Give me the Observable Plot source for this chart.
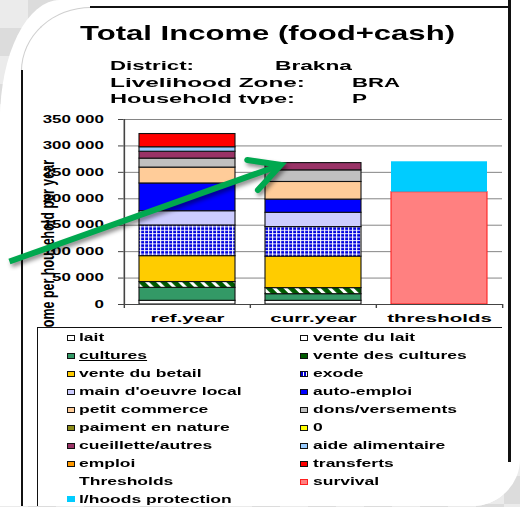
<!DOCTYPE html>
<html><head><meta charset="utf-8">
<script src="https://cdn.jsdelivr.net/npm/d3@7"></script>
<script src="https://cdn.jsdelivr.net/npm/@observablehq/plot@0.6"></script>
<style>
html,body{margin:0;padding:0;}
body{width:520px;height:507px;overflow:hidden;position:relative;font-family:"Liberation Sans",Arial,sans-serif;
 background-color:#e6e6e6;
 background-image:conic-gradient(#dcdcdc 25%, #ebebeb 0 50%, #dcdcdc 0 75%, #ebebeb 0);
 background-size:56px 56px;}
#page{position:absolute;left:0;top:0;width:520px;height:506px;background:#fff;
 border-top-left-radius:60px 120px;border-bottom-right-radius:48px 47px;overflow:hidden;}
.t{position:absolute;white-space:nowrap;font-weight:bold;line-height:1;color:#000;transform-origin:0 0;display:inline-block;}
#chart{position:absolute;left:0;top:104px;}
#legend{position:absolute;left:37px;top:327px;width:465px;height:180px;background:#fff;border-top:1px solid #111;border-left:1px solid #111;box-sizing:border-box;}
.sw{position:absolute;width:8px;height:6px;box-sizing:border-box;border:1px solid #111;}
.line{position:absolute;background:#111;}
#arc{position:absolute;left:21px;top:7px;width:140px;height:140px;border-top:1px solid #cfcfcf;border-left:1px solid #cfcfcf;border-top-left-radius:70px 64px;box-sizing:border-box;}
#arrow{position:absolute;left:0;top:0;filter:drop-shadow(2px 3px 2px rgba(0,0,0,0.45));pointer-events:none;}
</style>
</head><body>
<div id="page">
 <div id="arc"></div>
</div>
<script>
// ---------- data ----------
const categories = ["ref.year", "curr.year", "thresholds"];
const incomeSeries = ["lait","vente du lait","cultures","vente des cultures","vente du betail","exode",
  "main d'oeuvre local","auto-emploi","petit commerce","dons/versements","paiment en nature","0",
  "cueillette/autres","aide alimentaire","emploi","transferts"];
const refYear  = [7000,0,24500,11000,49000,58000,27000,52500,30000,17000,0,0,13000,8500,0,25000];
const currYear = [7000,0,12500,11500,59500,56000,27000,25000,33300,22000,0,0,13700,0,0,0];
const thresholdSeries = ["survival","l/hoods protection"];
const thresholdValues = [212500, 57500];
const yTicks = [0,50000,100000,150000,200000,250000,300000,350000];
const legendLabels = [...incomeSeries, "Thresholds", ...thresholdSeries];
const arrowFrom = {value: 74000};
const arrowTo = {category: "curr.year", value: 263000};

// ---------- styles ----------
const fills = {"lait":"#FFFFFF","vente du lait":"#FFFFFF","cultures":"#339966","vente des cultures":"url(#hatchGreen)",
 "vente du betail":"#FFCC00","exode":"url(#gridBlue)","main d'oeuvre local":"#CCCCFF","auto-emploi":"#0000FF",
 "petit commerce":"#FFCC99","dons/versements":"#C0C0C0","paiment en nature":"#999900","0":"#FFFF00",
 "cueillette/autres":"#993366","aide alimentaire":"#99CCFF","emploi":"#FF9900","transferts":"#FF0000",
 "survival":"#FF8080","l/hoods protection":"#00CCFF"};
const swatchCss = {"lait":"#fff","vente du lait":"#fff","cultures":"#339966","vente des cultures":"#005a00",
 "vente du betail":"#FFCC00","exode":"repeating-linear-gradient(90deg,#0000cc 0 2px,#fff 2px 3px)","main d'oeuvre local":"#CCCCFF",
 "auto-emploi":"#0000FF","petit commerce":"#FFCC99","dons/versements":"#C0C0C0","paiment en nature":"#8c8c1a",
 "0":"#FFFF00","cueillette/autres":"#993366","aide alimentaire":"#99CCFF","emploi":"#FF9900","transferts":"#FF0000",
 "survival":"#FF8080","l/hoods protection":"#00CCFF"};
const strokes = s => s === "survival" ? "#FF2020" : s === "l/hoods protection" ? "none" : "#111";

const rows = [];
incomeSeries.forEach((s,i) => rows.push({cat: categories[0], series: s, value: refYear[i]}));
incomeSeries.forEach((s,i) => rows.push({cat: categories[1], series: s, value: currYear[i]}));
thresholdSeries.forEach((s,i) => rows.push({cat: categories[2], series: s, value: thresholdValues[i]}));

const page = document.getElementById("page");

function addText(txt, left, top, size, opts = {}) {
  const el = document.createElement("span");
  el.className = "t";
  el.textContent = txt;
  el.style.left = left + "px"; el.style.top = top + "px"; el.style.fontSize = size + "px";
  if (opts.underline) el.style.textDecoration = "underline";
  (opts.parent || page).appendChild(el);
  const nat = el.getBoundingClientRect().width;
  const s = opts.width ? opts.width / nat : (opts.scale || 1);
  el.style.transform = `scaleX(${s})`;
  return el;
}

// ---------- header ----------
addText("Total Income (food+cash)", 80, 23.4, 20.5, {width: 375});
addText("District:", 110, 59.3, 13.5, {width: 84});
addText("Brakna", 275, 59.3, 13.5, {width: 77});
addText("Livelihood Zone:", 110, 75.8, 13.5, {width: 195});
addText("BRA", 352, 75.8, 13.5, {width: 48});
addText("Household type:", 110, 92.1, 13.5, {width: 185});
addText("P", 352, 92.1, 13.5, {width: 15});

// ---------- chart ----------
const W = 520, mL = 123, mR = 18;
const step = (W - mL - mR) / categories.length;
const fmt = d => d3.format(",")(d).replace(/,/g, " ");
const chart = Plot.plot({
  width: W, height: 223, marginLeft: mL, marginRight: mR, marginTop: 15, marginBottom: 23,
  x: {domain: categories, padding: 0},
  y: {domain: [0, 350000]},
  color: {type: "identity"},
  style: {background: "white", fontFamily: "Liberation Sans, Arial, sans-serif", color: "#000", overflow: "visible"},
  marks: [
    Plot.gridY(yTicks, {stroke: "#858585", strokeOpacity: 1, strokeWidth: 1}),
    Plot.barY(rows, {x: "cat", y: "value", fill: d => fills[d.series], stroke: d => strokes(d.series),
      strokeWidth: 1.1, insetLeft: 15, insetRight: 15}),
    Plot.ruleY([0], {stroke: "#444", strokeWidth: 1.2}),
    Plot.ruleX([categories[0]], {y1: 0, y2: 350000, dx: -step / 2, stroke: "#444", strokeWidth: 1.6}),
    Plot.ruleX(categories, {y1: 0, y2: 0, insetBottom: -4, dx: -step / 2, stroke: "#444", strokeWidth: 1.4}),
    Plot.ruleX([categories[categories.length - 1]], {y1: 0, y2: 0, insetBottom: -4, dx: step / 2, stroke: "#444", strokeWidth: 1.4}),
    Plot.axisY(yTicks, {tickFormat: fmt, tickSize: 5, tickPadding: 14.7, fontSize: 10, fontWeight: "bold", stroke: "#444", label: null}),
    Plot.axisX({tickSize: 0, tickPadding: 9.5, fontSize: 11.5, fontWeight: "bold", label: null})
  ]
});
const holder = document.createElement("div");
holder.id = "chart";
holder.appendChild(chart);
page.appendChild(holder);

const svg = d3.select(chart);
svg.insert("defs", ":first-child").html(`
  <pattern id="gridBlue" width="4" height="3.4" patternUnits="userSpaceOnUse">
    <rect width="4" height="3.4" fill="#0000dd"/>
    <rect width="1.2" height="3.4" fill="#ffffff" fill-opacity="0.9"/>
    <rect width="4" height="1" fill="#ffffff" fill-opacity="0.9"/>
  </pattern>
  <pattern id="hatchGreen" width="7.8" height="7.8" patternUnits="userSpaceOnUse" patternTransform="rotate(-45)">
    <rect width="7.8" height="7.8" fill="#005a00"/>
    <rect width="3" height="7.8" fill="#ffffff"/>
  </pattern>`);

// stretch axis tick labels horizontally (the source chart is a horizontally stretched capture)
function stretch(sel, f) {
  chart.querySelectorAll(sel).forEach(t => {
    const n = t.getComputedTextLength();
    t.setAttribute("textLength", n * f);
    t.setAttribute("lengthAdjust", "spacingAndGlyphs");
  });
}
stretch('g[aria-label="y-axis tick label"] text', 1.69);
stretch('g[aria-label="x-axis tick label"] text', 1.78);

// y axis title
svg.append("text")
  .attr("transform", "translate(54,56) scale(1.45,1) rotate(-90)")
  .attr("text-anchor", "end")
  .attr("font-size", 12.5).attr("font-weight", "bold").attr("fill", "#000")
  .text("Income per household per year");

// ---------- legend ----------
const legend = document.createElement("div");
legend.id = "legend";
page.appendChild(legend);
legendLabels.forEach((lab, k) => {
  const row = Math.floor(k / 2), col = k % 2;
  const cy = 10.3 + 17.9 * row;
  if (swatchCss[lab]) {
    const sw = document.createElement("div");
    sw.className = "sw";
    sw.style.left = (col ? 262 : 29) + "px";
    sw.style.top = (cy - 3) + "px";
    sw.style.background = swatchCss[lab];
    if (lab === "survival") sw.style.borderColor = "#FF2020";
    if (lab === "l/hoods protection") sw.style.borderColor = "#00CCFF";
    legend.appendChild(sw);
  }
  addText(lab, col ? 275 : 41, cy - 4.9, 10, {scale: 1.75, parent: legend, underline: lab === "cultures"});
});

// ---------- frame ----------
function line(l, t, w, h) {
  const d = document.createElement("div");
  d.className = "line";
  Object.assign(d.style, {left: l + "px", top: t + "px", width: w + "px", height: h + "px"});
  page.appendChild(d);
}
line(90, 6, 421, 2);
line(20.5, 70, 2, 440);
line(508, 0, 3, 462);

// ---------- annotation arrow ----------
const X = chart.scale("x"), Y = chart.scale("y");
const top0 = 104;
const bw = X.bandwidth != null ? X.bandwidth : step;
const tip = [X.apply(arrowTo.category) + bw * 0.245, top0 + Y.apply(arrowTo.value)];
const startY = top0 + Y.apply(arrowFrom.value);
const start = [0, startY];
const ang = Math.atan2(start[1] - tip[1], start[0] - tip[0]);
const a = 28 * Math.PI / 180, L = 34;
const arm1 = [tip[0] + L * Math.cos(ang + a), tip[1] + L * Math.sin(ang + a)];
const arm2 = [tip[0] + L * Math.cos(ang - a), tip[1] + L * Math.sin(ang - a)];
const ov = d3.select(page).append("svg").attr("id", "arrow").attr("width", 520).attr("height", 507);
const g = ov.append("g").attr("stroke", "#00A84F").attr("stroke-width", 6).attr("fill", "none");
g.append("line").attr("x1", start[0] - 10 * Math.cos(ang)).attr("y1", start[1] - 10 * Math.sin(ang))
  .attr("x2", tip[0] + 3 * Math.cos(ang)).attr("y2", tip[1] + 3 * Math.sin(ang));
g.append("polyline").attr("points", [arm1, tip, arm2].map(p => p.join(",")).join(" "))
  .attr("stroke-linejoin", "miter").attr("stroke-linecap", "round");
</script>
</body></html>
